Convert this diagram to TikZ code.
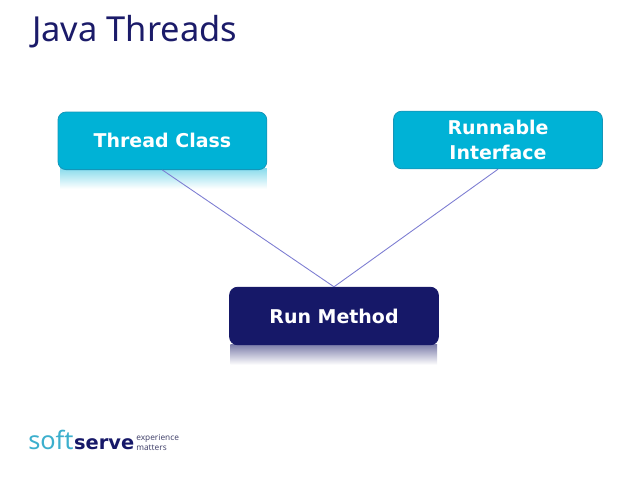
\documentclass[tikz,border=0pt]{standalone}
\usepackage{fontspec}
\setmainfont{Noto Sans}
\newfontfamily\boldface{DejaVu Sans Bold}
\usetikzlibrary{positioning}
\definecolor{titlenavy}{RGB}{27,27,105}
\definecolor{boxcyan}{RGB}{0,178,214}
\definecolor{boxedge}{RGB}{20,150,185}
\definecolor{boxnavy}{RGB}{22,24,104}
\definecolor{linkblue}{RGB}{125,125,210}
\definecolor{softcyan}{RGB}{60,175,205}
\definecolor{tagline}{RGB}{70,70,110}
\tikzset{
  diagbox/.style={draw=boxedge, line width=0.02cm, rounded corners=0.2cm, minimum width=5.22cm,
    minimum height=1.44cm, inner sep=0pt, align=center, text=white,
    font=\fontsize{13.5}{17.8}\selectfont\boldface},
  runstyle/.style={diagbox, draw=boxnavy, fill=boxnavy},
  link/.style={draw=linkblue, line width=0.022cm},
}
\begin{document}
\begin{tikzpicture}
    \useasboundingbox (0,0) rectangle (16,-12);

    % Reflections below the boxes
    \shade [top color=boxcyan!45!white, bottom color=white] (1.5,-4.22) rectangle (6.67,-4.72);
    \shade [top color=boxnavy!55!white, bottom color=white] (5.76,-8.62) rectangle (10.93,-9.12);

    % Title
    \node (title) [anchor=west, text=titlenavy, font=\fontsize{24.5}{28}\selectfont] at (0.68,-0.8) {Java Threads};

    % Boxes
    \node (threadbox) [diagbox, fill=boxcyan] at (4.06,-3.52) {Thread Class};
    \node (runnablebox) [diagbox, fill=boxcyan] at (12.45,-3.5) {Runnable\\Interface};
    \node (runbox) [runstyle] at (8.35,-7.9) {Run Method};

    % Connectors
    \draw [link] (threadbox.south) -- (runbox.north);
    \draw [link] (runnablebox.south) -- (runbox.north);

    % Logo
    \node (softword) [anchor=base west, inner sep=0pt, text=softcyan, font=\fontsize{18}{20}\selectfont] at (0.7,-11.24) {soft};
    \node (serveword) [anchor=base west, inner sep=0pt, text=boxnavy, font=\fontsize{13.8}{20}\selectfont\boldface] at (softword.base east) {serve};
    \node (tagword) [anchor=west, inner sep=0pt, align=left, text=tagline, font=\fontsize{5.9}{7}\selectfont] at (3.4,-11.07) {experience\\matters};
\end{tikzpicture}
\end{document}
